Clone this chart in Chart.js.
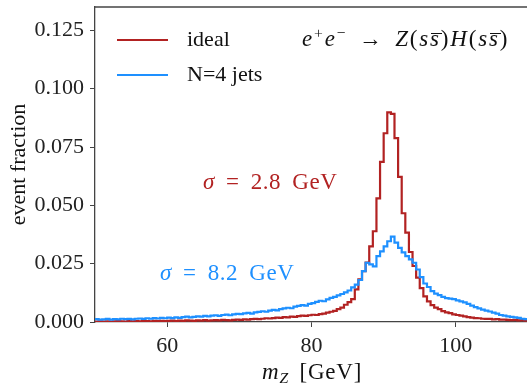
<!DOCTYPE html>
<html>
<head>
<meta charset="utf-8">
<script src="https://cdn.jsdelivr.net/npm/chart.js"></script>
<style>
html, body { margin: 0; padding: 0; overflow: hidden; background: #fff; }
#wrap { position: relative; width: 540px; height: 384px; }
.note { position: absolute; font-family: "Liberation Serif", serif; font-size: 22px; white-space: nowrap; line-height: 1; }
.note sup { font-size: 0.68em; vertical-align: 0.5em; line-height: 0; }
.note sub { font-size: 0.68em; vertical-align: -0.25em; line-height: 0; }
.bar { position: relative; }
.bar::after { content: ''; position: absolute; left: 1px; right: -1px; top: 0.3em; border-top: 1px solid #111; }
</style>
</head>
<body>
<div id="wrap">
  <canvas id="massHist" width="540" height="384"></canvas>
  <div class="note" style="left:302px; top:27px; color:#111; font-size:23px; letter-spacing:1.8px; word-spacing:4px"><i>e</i><sup>+</sup><i>e</i><sup>−</sup> → <i>Z</i>(<i>s<span class="bar">s</span></i>)<i>H</i>(<i>s<span class="bar">s</span></i>)</div>
  <div class="note" style="left:203px; top:170px; color:#b22222; font-size:23px; word-spacing:5px; letter-spacing:0.5px"><i>σ</i> = 2.8 GeV</div>
  <div class="note" style="left:160px; top:261px; color:#1e90ff; font-size:23px; word-spacing:5px; letter-spacing:0.5px"><i>σ</i> = 8.2 GeV</div>
  <div class="note" style="left:262px; top:360px; color:#111; font-size:23px; letter-spacing:0.8px; word-spacing:4px"><i>m</i><sub><i>Z</i></sub> [GeV]</div>
</div>
<script>
// binning of the m_Z histogram
const binLo = 50;
const binWidth = 0.5;

// event fraction per 0.5 GeV bin, 50 -> 110 GeV
const idealFrac = [
  0.0002, 0.0003, 0.0002, 0.0003, 0.0002, 0.0003, 0.0004, 0.0003, 0.0002, 0.0004,
  0.0003, 0.0004, 0.0003, 0.0005, 0.0004, 0.0003, 0.0005, 0.0004, 0.0005, 0.0004,
  0.0005, 0.0006, 0.0004, 0.0006, 0.0005, 0.0007, 0.0006, 0.0005, 0.0007, 0.0006,
  0.0008, 0.0006, 0.0007, 0.0008, 0.0007, 0.0009, 0.0008, 0.0007, 0.0009, 0.0010,
  0.0009, 0.0011, 0.0010, 0.0012, 0.0013, 0.0012, 0.0014, 0.0016, 0.0015, 0.0017,
  0.0019, 0.0018, 0.0021, 0.0020, 0.0023, 0.0022, 0.0025, 0.0027, 0.0026, 0.0029,
  0.0031, 0.0030, 0.0034, 0.0036, 0.0040, 0.0044, 0.0048, 0.0055, 0.0062, 0.0074,
  0.0085, 0.0098, 0.0140, 0.0183, 0.0218, 0.0255, 0.0324, 0.0389, 0.0530, 0.0686,
  0.0809, 0.0898, 0.0892, 0.0788, 0.0622, 0.0466, 0.0383, 0.0300, 0.0240, 0.0190,
  0.0145, 0.0110, 0.0088, 0.0072, 0.0062, 0.0055, 0.0047, 0.0041, 0.0038, 0.0033,
  0.0030, 0.0027, 0.0024, 0.0021, 0.0019, 0.0017, 0.0016, 0.0014, 0.0013, 0.0013,
  0.0011, 0.0012, 0.0010, 0.0010, 0.0009, 0.0008, 0.0009, 0.0007, 0.0008, 0.0006
];

const jetFrac = [
  0.0012, 0.0010, 0.0011, 0.0013, 0.0010, 0.0012, 0.0011, 0.0014, 0.0012, 0.0013,
  0.0011, 0.0014, 0.0015, 0.0013, 0.0016, 0.0014, 0.0017, 0.0015, 0.0018, 0.0016,
  0.0019, 0.0017, 0.0020, 0.0018, 0.0021, 0.0023, 0.0020, 0.0022, 0.0024, 0.0023,
  0.0026, 0.0024, 0.0027, 0.0029, 0.0026, 0.0030, 0.0032, 0.0029, 0.0033, 0.0035,
  0.0034, 0.0037, 0.0039, 0.0036, 0.0041, 0.0043, 0.0046, 0.0044, 0.0049, 0.0052,
  0.0050, 0.0055, 0.0058, 0.0061, 0.0059, 0.0066, 0.0069, 0.0072, 0.0070, 0.0078,
  0.0081, 0.0086, 0.0091, 0.0089, 0.0097, 0.0103, 0.0108, 0.0114, 0.0120, 0.0127,
  0.0135, 0.0148, 0.0160, 0.0180, 0.0218, 0.0254, 0.0247, 0.0238, 0.0282, 0.0303,
  0.0324, 0.0346, 0.0366, 0.0340, 0.0318, 0.0298, 0.0282, 0.0268, 0.0254, 0.0225,
  0.0192, 0.0165, 0.0150, 0.0132, 0.0122, 0.0115, 0.0108, 0.0102, 0.0100, 0.0098,
  0.0093, 0.0088, 0.0084, 0.0078, 0.0070, 0.0064, 0.0058, 0.0053, 0.0049, 0.0045,
  0.0040, 0.0036, 0.0030, 0.0027, 0.0024, 0.0022, 0.0020, 0.0018, 0.0014, 0.0012
];

const seriesNames = ['ideal', 'N=4 jets'];
const xTicks = [60, 80, 100];
const yTicks = [0, 0.025, 0.05, 0.075, 0.1, 0.125];

const serif = '"Liberation Serif", serif';

// left bin edges, plus the closing edge so the last bin gets its full width
function stepPoints(vals) {
  const pts = vals.map((v, i) => ({ x: binLo + i * binWidth, y: v }));
  pts.push({ x: binLo + vals.length * binWidth, y: vals[vals.length - 1] });
  return pts;
}

// top spine + legend drawn inside the axes, like matplotlib
const frameAndLegend = {
  id: 'frameAndLegend',
  afterDraw(chart) {
    const { ctx, chartArea } = chart;
    ctx.save();
    ctx.strokeStyle = '#444';
    ctx.lineWidth = 1.3;
    ctx.beginPath();
    ctx.moveTo(chartArea.left, chartArea.top);
    ctx.lineTo(chartArea.right, chartArea.top);
    ctx.stroke();

    ctx.font = '22px ' + serif;
    ctx.textBaseline = 'middle';
    chart.data.datasets.forEach((ds, i) => {
      const y = chartArea.top + 33 + i * 35;
      const x0 = chartArea.left + 22;
      ctx.strokeStyle = ds.borderColor;
      ctx.lineWidth = 2.2;
      ctx.beginPath();
      ctx.moveTo(x0, y);
      ctx.lineTo(x0 + 51, y);
      ctx.stroke();
      ctx.fillStyle = '#111';
      ctx.fillText(ds.label, x0 + 70, y);
    });
    ctx.restore();
  }
};

new Chart(document.getElementById('massHist'), {
  type: 'line',
  data: {
    datasets: [{
      label: seriesNames[0],
      data: stepPoints(idealFrac),
      borderColor: '#b22222',
      borderWidth: 2.2,
      pointRadius: 0,
      stepped: 'before',
      fill: false,
      order: 1
    }, {
      label: seriesNames[1],
      data: stepPoints(jetFrac),
      borderColor: '#1e90ff',
      borderWidth: 2.2,
      pointRadius: 0,
      stepped: 'before',
      fill: false,
      order: 0
    }]
  },
  plugins: [frameAndLegend],
  options: {
    responsive: false,
    animation: false,
    layout: {
      padding: { top: 7, right: 12, left: 0, bottom: 0 }
    },
    plugins: {
      legend: { display: false },
      tooltip: { enabled: false }
    },
    scales: {
      x: {
        type: 'linear',
        min: 50,
        max: 110,
        afterBuildTicks: s => { s.ticks = xTicks.map(v => ({ value: v })); },
        afterFit: s => {
          s.height = 62;
          s.paddingLeft = 0;
          s.paddingRight = 0;
        },
        ticks: {
          color: '#222',
          font: { family: serif, size: 22 },
          padding: 6,
          maxRotation: 0,
          autoSkip: false
        },
        grid: {
          drawOnChartArea: false,
          tickLength: 5,
          color: '#444'
        },
        border: { color: '#444', width: 1.3 }
      },
      y: {
        min: 0,
        max: 0.135,
        afterBuildTicks: s => { s.ticks = yTicks.map(v => ({ value: v })); },
        afterFit: s => {
          s.width = 95;
          s.paddingTop = 0;
          s.paddingBottom = 0;
        },
        ticks: {
          color: '#222',
          font: { family: serif, size: 22 },
          padding: 6,
          callback: v => v.toFixed(3)
        },
        grid: {
          drawOnChartArea: false,
          tickLength: 5,
          color: '#444'
        },
        border: { color: '#444', width: 1.3 },
        title: {
          display: true,
          text: 'event fraction',
          color: '#111',
          font: { family: serif, size: 22 },
          padding: { top: 6, bottom: 0 }
        }
      }
    }
  }
});
</script>
</body>
</html>
